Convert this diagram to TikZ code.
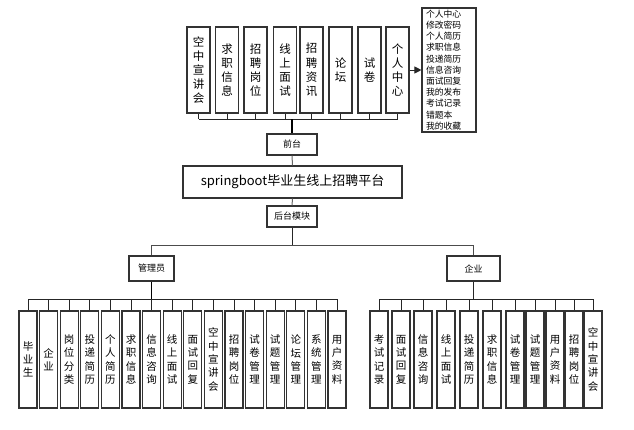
\documentclass[tikz,border=0pt]{standalone}
\usepackage{fontspec}
\newfontfamily\cjk{Noto Sans CJK SC}
\usetikzlibrary{arrows.meta}
\tikzset{
  box/.style={draw=black!80, line width=1.1pt, fill=white, inner sep=0pt, align=center},
  vtop/.style={box, minimum width=23pt, minimum height=86pt, font=\cjk\fontsize{11.5}{14.2}\selectfont},
  vbot/.style={box, minimum width=18pt, minimum height=97pt, font=\cjk\fontsize{10.5}{13.3}\selectfont},
  small/.style={box, font=\cjk\fontsize{9}{11}\selectfont},
  conn/.style={draw=black!85, line width=1pt},
}
\begin{document}
\begin{tikzpicture}[x=1pt,y=-1pt]
\useasboundingbox (0,0) rectangle (634,429);
% top boxes
\node[vtop] (t1) at (198.5,70) {空\\中\\宣\\讲\\会};
\node[vtop] (t2) at (227,70) {求\\职\\信\\息};
\node[vtop] (t3) at (255.5,70) {招\\聘\\岗\\位};
\node[vtop] (t4) at (285,70) {线\\上\\面\\试};
\node[vtop] (t5) at (311.5,70) {招\\聘\\资\\讯};
\node[vtop] (t6) at (340.5,70) {论\\坛};
\node[vtop] (t7) at (369.5,70) {试\\卷};
\node[vtop] (t8) at (397.5,70) {个\\人\\中\\心};
\node[box, font=\cjk\fontsize{8.8}{11.2}\selectfont, align=left, text width=46pt, inner xsep=4pt, minimum height=124pt] (lst) at (449,70)
 {个人中心\\修改密码\\个人简历\\求职信息\\投递简历\\信息咨询\\面试回复\\我的发布\\考试记录\\错题本\\我的收藏};
\draw[conn, -{Triangle[length=7pt,width=7pt]}] (t8.east) -- (lst.west |- t8.east);
\coordinate (tb) at (293,119);
\foreach \i in {1,...,8}{\draw[conn] (t\i.south) -- (t\i.south |- tb);}
\draw[conn] (t1.south |- tb) -- (t8.south |- tb);
% middle
\node[small, minimum width=50pt, minimum height=21pt] (qt) at (292,144.5) {前台};
\node[box, minimum width=219pt, minimum height=32pt, font=\cjk\fontsize{13}{15}\selectfont] (main) at (292.5,182) {springboot毕业生线上招聘平台};
\node[small, minimum width=50pt, minimum height=21pt] (ht) at (292,216.5) {后台模块};
\draw[conn, line width=1.6pt, draw=black] (tb -| qt.north) -- (qt.north);
\draw[conn, draw=black!60] (qt.south) -- (main.north);
\draw[conn, draw=black!60] (main.south) -- (ht.north);
\node[small, minimum width=45pt, minimum height=25pt] (gl) at (151.5,268.5) {管理员};
\node[small, minimum width=53pt, minimum height=25pt] (qy) at (473.5,268.5) {企业};
\coordinate (mb) at (293,245);
\draw[conn] (ht.south) -- (ht.south |- mb);
\draw[conn, draw=black!70] (gl.north) -- (gl.north |- mb) -- (qy.north |- mb) -- (qy.north);
% admin children
\coordinate (ab) at (152,299);
\foreach \t [count=\i from 0] in {毕\\业\\生, 企\\业, 岗\\位\\分\\类, 投\\递\\简\\历, 个\\人\\简\\历, 求\\职\\信\\息, 信\\息\\咨\\询, 线\\上\\面\\试, 面\\试\\回\\复, 空\\中\\宣\\讲\\会, 招\\聘\\岗\\位, 试\\卷\\管\\理, 试\\题\\管\\理, 论\\坛\\管\\理, 系\\统\\管\\理, 用\\户\\资\\料}{
  \node[vbot] (a\i) at (28+\i*20.6,359.5) {\t};
  \draw[conn] (a\i.north) -- (a\i.north |- ab);
}
\draw[conn] (a0.north |- ab) -- (a15.north |- ab);
\draw[conn, line width=1.6pt, draw=black] (gl.south) -- (gl.south |- ab);
% company children
\coordinate (cb) at (473,299);
\foreach \t/\x [count=\i from 0] in {考\\试\\记\\录/379, 面\\试\\回\\复/401, 信\\息\\咨\\询/423, 线\\上\\面\\试/446, 投\\递\\简\\历/469, 求\\职\\信\\息/492, 试\\卷\\管\\理/515, 试\\题\\管\\理/535, 用\\户\\资\\料/555, 招\\聘\\岗\\位/574, 空\\中\\宣\\讲\\会/593}{
  \node[vbot] (c\i) at (\x,359.5) {\t};
  \draw[conn] (c\i.north) -- (c\i.north |- cb);
}
\draw[conn] (c0.north |- cb) -- (c10.north |- cb);
\draw[conn] (qy.south) -- (qy.south |- cb);
\end{tikzpicture}
\end{document}
